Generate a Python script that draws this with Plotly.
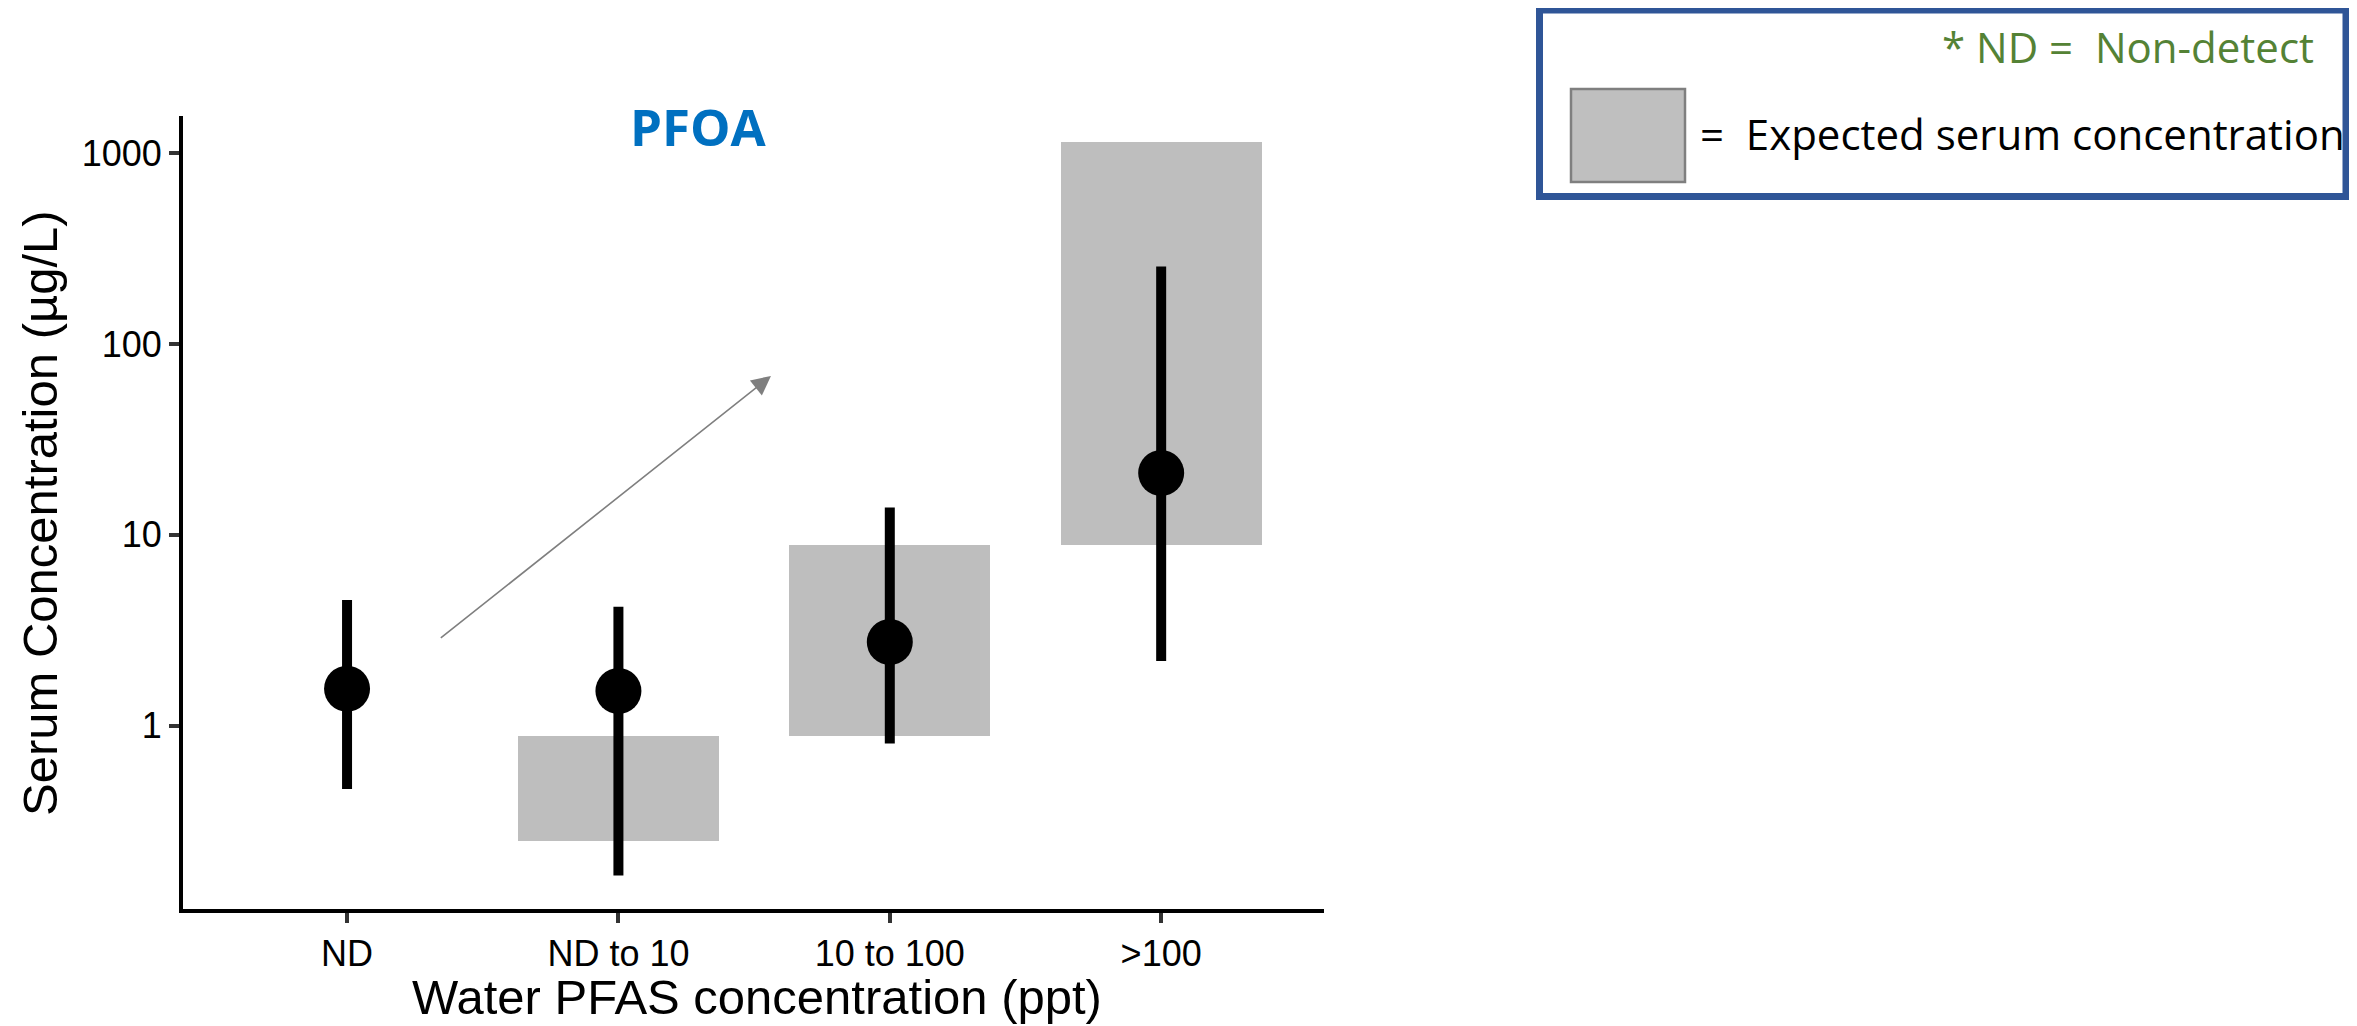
import plotly.graph_objects as go
import numpy as np

# ---------------- data ----------------
categories = ["ND", "ND to 10", "10 to 100", ">100"]
median_vals = [1.56, 1.52, 2.74, 21.1]
whisker_low = [0.466, 0.164, 0.805, 2.18]
whisker_high = [4.56, 4.2, 13.9, 255]

# expected serum concentration boxes (None = no box)
box_low = [None, 0.25, 0.88, 8.8]
box_high = [None, 0.88, 8.8, 1150]

y_tickvals = [1, 10, 100, 1000]
y_ticktext = ["1", "10", "100", "1000"]

# trend arrow (category index, serum value)
arrow_tail = (0.34, 2.84)
arrow_head = (1.562, 68.0)

# ---------------- figure ----------------
W, H = 2357, 1026
OFF = 8  # default page body margin
L, R, T, B = 183, 1324, 116, 909  # plot area in page pixels
FW, FH = W - OFF, H - OFF

xpos = list(range(len(categories)))

fig = go.Figure()

bx = [x for x, lo in zip(xpos, box_low) if lo is not None]
blo = [lo for lo in box_low if lo is not None]
bhi = [hi for hi in box_high if hi is not None]
fig.add_trace(go.Bar(
    x=bx, y=[h - l for h, l in zip(bhi, blo)], base=blo,
    width=0.74, marker=dict(color="#BEBEBE", line=dict(width=0)),
    showlegend=False, hoverinfo="skip",
))

fig.add_trace(go.Scatter(
    x=xpos, y=median_vals, mode="markers",
    marker=dict(size=46, color="black", line=dict(width=0)),
    error_y=dict(type="data", symmetric=False,
                 array=[h - m for h, m in zip(whisker_high, median_vals)],
                 arrayminus=[m - l for m, l in zip(median_vals, whisker_low)],
                 thickness=10, width=0, color="black"),
    showlegend=False,
))

def px_x(p):
    return (p - L) / (R - L)

def px_y(p):
    return (B - p) / (B - T)

ann = []
# trend arrow
ann.append(dict(
    x=arrow_head[0], y=np.log10(arrow_head[1]), xref="x", yref="y",
    ax=arrow_tail[0], ay=np.log10(arrow_tail[1]), axref="x", ayref="y",
    text="", showarrow=True, arrowhead=2, arrowsize=2.4, arrowwidth=1.6,
    arrowcolor="#7F7F7F", standoff=0, startstandoff=0,
))
# title
ann.append(dict(
    x=px_x(698), y=px_y(126), xref="paper", yref="paper",
    text="<b>PFOA</b>", showarrow=False, xanchor="center", yanchor="middle",
    font=dict(family="Open Sans", size=51, color="#0070C0"),
))
# axis titles
ann.append(dict(
    x=px_x(40), y=px_y(513), xref="paper", yref="paper",
    text="Serum Concentration (µg/L)", showarrow=False, textangle=-90,
    xanchor="center", yanchor="middle",
    font=dict(family="Liberation Sans, Arial", size=49, color="black"),
))
ann.append(dict(
    x=px_x(757), y=px_y(997), xref="paper", yref="paper",
    text="Water PFAS concentration (ppt)", showarrow=False,
    xanchor="center", yanchor="middle",
    font=dict(family="Liberation Sans, Arial", size=49, color="black"),
))
# legend box texts
ann.append(dict(
    x=px_x(2316), y=px_y(47), xref="paper", yref="paper",
    text="* ND =  Non-detect", showarrow=False, xanchor="right", yanchor="middle",
    font=dict(family="Open Sans", size=42, color="#548235"),
))
ann.append(dict(
    x=px_x(1698), y=px_y(134), xref="paper", yref="paper",
    text="=  Expected serum concentration", showarrow=False,
    xanchor="left", yanchor="middle",
    font=dict(family="Open Sans", size=42, color="black"),
))

shapes = [
    dict(type="rect", xref="paper", yref="paper",
         x0=px_x(1539.5), x1=px_x(2346), y0=px_y(196.5), y1=px_y(10),
         line=dict(color="#2F5597", width=7), fillcolor="rgba(0,0,0,0)"),
    dict(type="rect", xref="paper", yref="paper",
         x0=px_x(1571), x1=px_x(1685), y0=px_y(182), y1=px_y(89),
         line=dict(color="#7F7F7F", width=2.5), fillcolor="#BFBFBF"),
]

fig.update_layout(
    width=FW, height=FH,
    margin=dict(l=L - OFF, r=FW - (R - OFF), t=T - OFF, b=FH - (B - OFF), pad=0),
    paper_bgcolor="white", plot_bgcolor="white",
    annotations=ann, shapes=shapes,
    showlegend=False, bargap=0,
)

fig.update_xaxes(
    range=[-0.6045, 3.6], tickvals=xpos, ticktext=categories,
    showgrid=False, zeroline=False,
    showline=True, linecolor="black", linewidth=4,
    ticks="outside", ticklen=10, tickwidth=4, tickcolor="#333333",
    tickfont=dict(family="Liberation Sans, Arial", size=36, color="black"),
)
fig.update_yaxes(
    type="log", range=[-0.961, 3.195],
    tickvals=y_tickvals, ticktext=y_ticktext,
    showgrid=False, zeroline=False,
    showline=True, linecolor="black", linewidth=4,
    ticks="outside", ticklen=10, tickwidth=4, tickcolor="#333333",
    tickfont=dict(family="Liberation Sans, Arial", size=36, color="black"),
)

fig.write_html("out.html")
